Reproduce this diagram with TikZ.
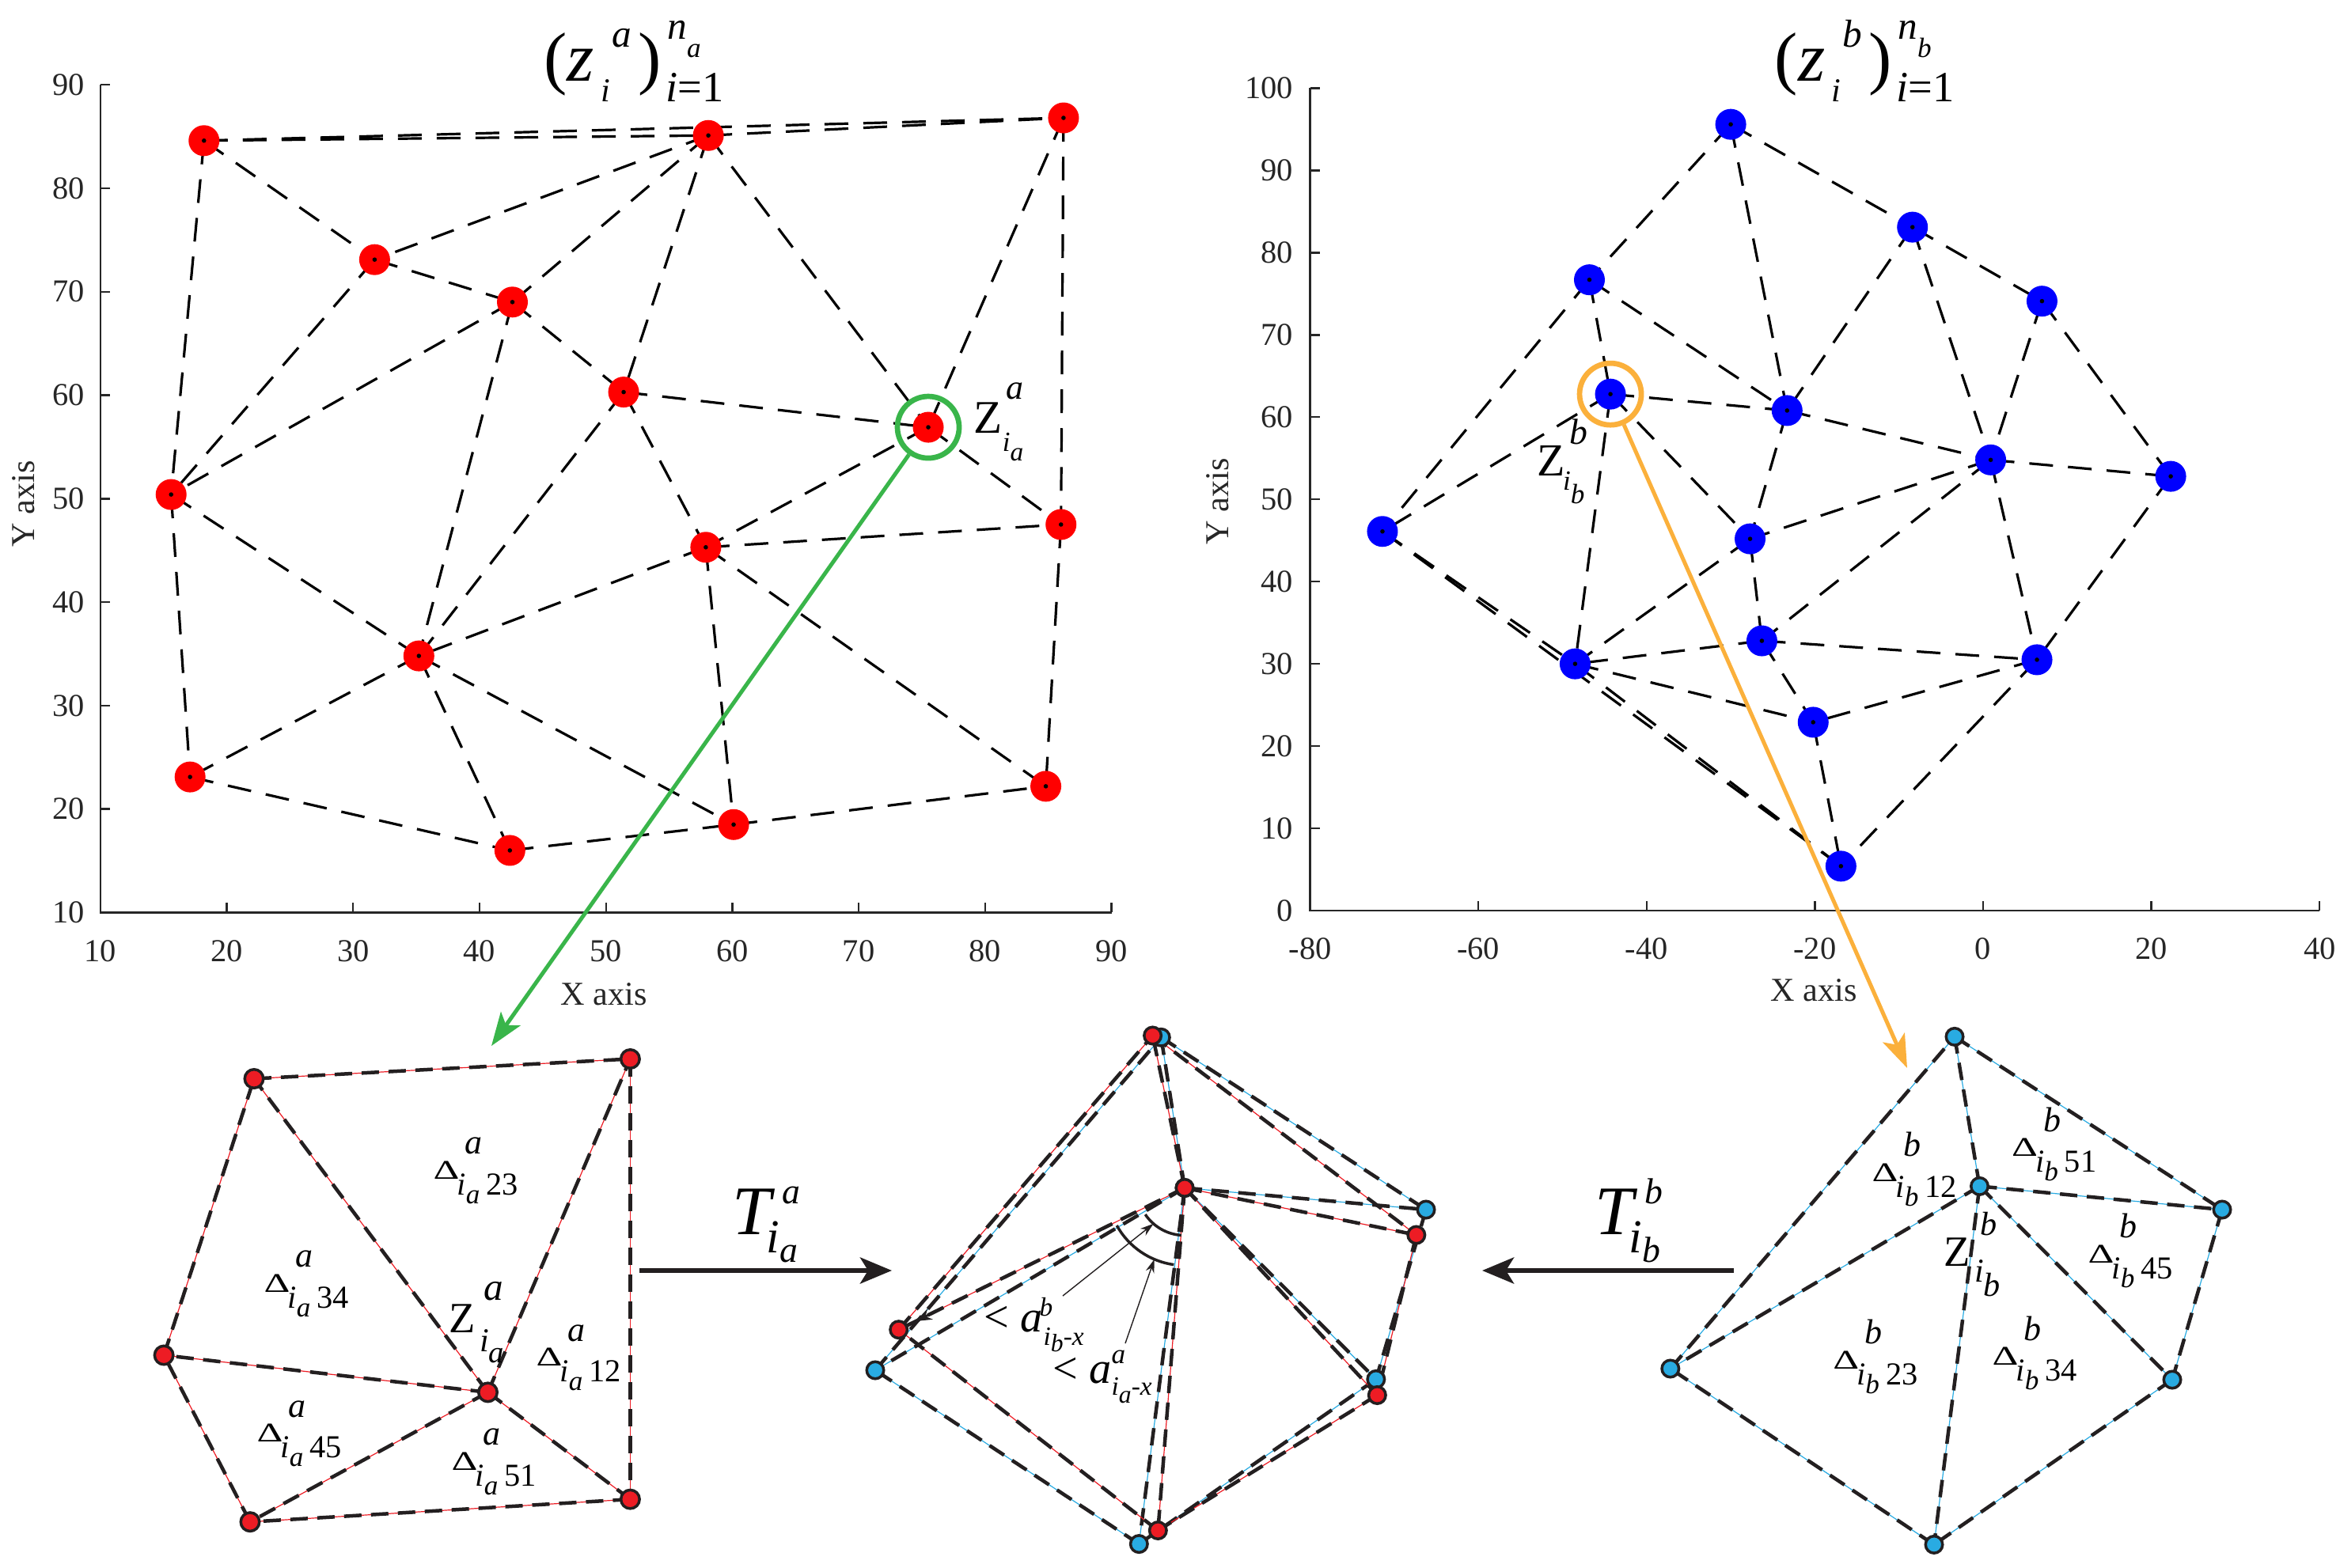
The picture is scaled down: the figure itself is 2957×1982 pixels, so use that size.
\documentclass[tikz,border=0pt]{standalone}
\usepackage{graphicx}
\usepackage{fontspec}
\setmainfont{Liberation Serif}
\usetikzlibrary{arrows.meta,calc}
\definecolor{mred}{RGB}{255,0,0}
\definecolor{mblue}{RGB}{0,0,255}
\definecolor{ired}{HTML}{ED1C24}
\definecolor{iblue}{HTML}{29ABE2}
\definecolor{ink}{HTML}{231F20}
\definecolor{ggreen}{HTML}{39B54A}
\definecolor{gorange}{HTML}{FBB03B}
\definecolor{axgray}{HTML}{262626}
\newcommand\fs[1]{\fontsize{#1}{#1}\selectfont}
\newcommand\Dlab[3]{\raisebox{0.2cm}{\scalebox{1.5}[1]{\fs{9.7}Δ}}\rlap{\hskip0.07cm\raisebox{0.51cm}{\fs{12.5}\itshape #1}}\hskip-0.03cm{\itshape i}\raisebox{-0.11cm}{\fs{10}\itshape #2}\hskip0.08cm #3}
\begin{document}
\begin{tikzpicture}[x=0.01cm,y=-0.01cm,
  tdash/.style={black,line width=0.032cm,dash pattern=on 0.30cm off 0.19cm},
  axisline/.style={axgray,line width=0.024cm},
  ticklab/.style={inner sep=0pt,font=\fs{11.5},text=axgray},
  axlab/.style={inner sep=0pt,font=\fs{12},text=axgray},
  rdot/.style={circle,fill=mred,minimum size=0.39cm,inner sep=0pt,
    path picture={\fill[black] (path picture bounding box.center) circle (0.028cm);}},
  bdot/.style={rdot,fill=mblue},
  redge/.style={ink,line width=0.045cm,dash pattern=on 0.22cm off 0.12cm,
    preaction={draw=ired,line width=0.012cm,solid}},
  bedge/.style={ink,line width=0.045cm,dash pattern=on 0.22cm off 0.12cm,
    preaction={draw=iblue,line width=0.012cm,solid}},
  rnode/.style={circle,draw=ink,line width=0.035cm,fill=ired,minimum size=0.215cm,inner sep=0pt},
  bnode/.style={rnode,fill=iblue},
  lab/.style={anchor=base west,inner sep=0pt},
  dlab/.style={lab,font=\fs{11.5}},
  bigarrow/.style={ink,line width=0.06cm,-{Stealth[length=0.40cm,width=0.33cm,inset=0.1cm]}},
  pointer/.style={ink,line width=0.014cm,-{Stealth[length=0.17cm,width=0.11cm]}},
  ring/.style={circle,line width=0.067cm,minimum size=0.78cm,inner sep=0pt},
]
\fill[white] (0,0) rectangle (2957,1982);
\useasboundingbox (0,0) rectangle (2957,1982);

% ---------------- left data plot ----------------
\begin{scope}[shift={(-32.94,1284.21)},x=0.15964cm,y=0.13071cm]
  \draw[axisline] (10,90) -- (10,10) -- (90,10);
  \foreach \v in {10,20,...,90}{
    \draw[axisline] (\v,10) -- ++(0,0.12cm);
    \draw[axisline] (10,\v) -- ++(0.12cm,0);
    \node[ticklab,anchor=north] (lx\v) at ([yshift=-0.345cm]\v,10) {\v};
    \node[ticklab,anchor=east] (ly\v) at ([xshift=-0.19cm]10,\v) {\v};
  }
  \coordinate (L1) at (18.2,84.6);  \coordinate (L2) at (58.1,85.1);
  \coordinate (L3) at (86.2,86.8);  \coordinate (L4) at (31.7,73.1);
  \coordinate (L5) at (42.6,69.0);  \coordinate (L6) at (51.4,60.3);
  \coordinate (L7) at (75.5,56.9);  \coordinate (L8) at (15.6,50.4);
  \coordinate (L9) at (57.9,45.3);  \coordinate (L10) at (86.0,47.5);
  \coordinate (L11) at (35.2,34.8); \coordinate (L12) at (17.1,23.1);
  \coordinate (L13) at (42.4,16.0); \coordinate (L14) at (60.1,18.5);
  \coordinate (L15) at (84.8,22.2);
  \foreach \a/\b in {1/2,1/3,2/3,1/4,1/8,2/4,2/5,2/6,2/7,3/7,3/10,4/5,4/8,5/8,5/6,5/11,
      6/7,6/9,6/11,7/9,7/10,8/11,8/12,9/10,9/11,9/14,9/15,10/15,11/12,11/13,11/14,12/13,13/14,14/15}
    \draw[tdash] (L\a) -- (L\b);
  \foreach \i in {1,...,15} \node[rdot] (nL\i) at (L\i) {};
\end{scope}
\node[axlab] (xlabA) at (763,1257) {X axis};
\node[axlab,rotate=90] (ylabA) at (30,637) {Y axis};

% ---------------- right data plot ----------------
\begin{scope}[shift={(2506,1151)},x=0.10625cm,y=0.1039cm]
  \draw[axisline] (-80,100) -- (-80,0) -- (40,0);
  \foreach \v in {-80,-60,...,40}{
    \draw[axisline] (\v,0) -- ++(0,0.12cm);
    \node[ticklab,anchor=north] (rx\v) at ([yshift=-0.335cm]\v,0) {\v};
  }
  \foreach \v in {0,10,...,100}{
    \draw[axisline] (-80,\v) -- ++(0.12cm,0);
    \node[ticklab,anchor=east] (ry\v) at ([xshift=-0.21cm]-80,\v) {\v};
  }
  \coordinate (B1) at (-30.0,95.6);  \coordinate (B2) at (-8.4,83.1);
  \coordinate (B3) at (7.0,74.1);    \coordinate (B4) at (-46.8,76.7);
  \coordinate (B5) at (-44.3,62.8);  \coordinate (B6) at (-23.3,60.8);
  \coordinate (B7) at (0.9,54.8);    \coordinate (B8) at (22.3,52.8);
  \coordinate (B9) at (-71.4,46.1);  \coordinate (B10) at (-27.7,45.2);
  \coordinate (B11) at (-26.3,32.8); \coordinate (B12) at (-48.5,30.0);
  \coordinate (B13) at (6.4,30.5);   \coordinate (B14) at (-20.2,22.9);
  \coordinate (B15) at (-16.9,5.4);
  \foreach \a/\b in {1/2,1/4,1/6,2/3,2/6,2/7,3/7,3/8,4/5,4/6,4/9,5/6,5/9,5/10,5/12,6/7,6/10,
      7/8,7/10,7/11,7/13,8/13,9/12,9/15,10/11,10/12,11/12,11/13,11/14,12/14,12/15,13/14,13/15,14/15}
    \draw[tdash] (B\a) -- (B\b);
  \foreach \i in {1,...,15} \node[bdot] (nB\i) at (B\i) {};
\end{scope}
\node[axlab] (xlabB) at (2292,1252) {X axis};
\node[axlab,rotate=90] (ylabB) at (1539,634) {Y axis};

% titles
\node[lab] (titleA) at (687,103) {\fs{25}(\textit{z}\makebox[0.55cm][l]{\rlap{\hskip0.22cm\raisebox{0.43cm}{\fs{14}\itshape a}}\hskip0.08cm\raisebox{-0.25cm}{\fs{12}\itshape i}})\rlap{\hskip0.08cm\raisebox{0.53cm}{\fs{14}\itshape n\raisebox{-0.23cm}{\fs{10}a}}}\hskip0.06cm\raisebox{-0.25cm}{\fs{15.5}\itshape i\upshape=1}};
\node[lab] (titleB) at (2242,103) {\fs{25}(\textit{z}\makebox[0.55cm][l]{\rlap{\hskip0.22cm\raisebox{0.43cm}{\fs{14}\itshape b}}\hskip0.08cm\raisebox{-0.25cm}{\fs{12}\itshape i}})\rlap{\hskip0.08cm\raisebox{0.53cm}{\fs{14}\itshape n\raisebox{-0.23cm}{\fs{10}b}}}\hskip0.06cm\raisebox{-0.25cm}{\fs{15.5}\itshape i\upshape=1}};

% labels at the circled points
\node[lab] (zA) at (1230,547) {\fs{16.8}Z\rlap{\hskip0.05cm\raisebox{0.42cm}{\fs{12.5}\itshape a}}\raisebox{-0.23cm}{\fs{10}\itshape i\raisebox{-0.12cm}{\fs{9.5}a}}};
\node[lab] (zB) at (1942,601.7) {\fs{16.5}Z\rlap{\hskip0.05cm\raisebox{0.40cm}{\fs{13}\itshape b}}\hskip-0.03cm\raisebox{-0.18cm}{\fs{10}\itshape i\raisebox{-0.17cm}{\fs{10}b}}};

% rings and long arrows
\node[ring,draw=ggreen] (gring) at (L7) {};
\node[ring,draw=gorange] (oring) at (B5) {};
\coordinate (gtip) at (621,1322);
\coordinate (otip) at (2410,1350);
\draw[ggreen,line width=0.05cm,-{Stealth[length=0.42cm,width=0.30cm,inset=0.1cm]}] (gring) -- (gtip);
\draw[gorange,line width=0.05cm,-{Stealth[length=0.42cm,width=0.30cm,inset=0.1cm]}] (oring) -- (otip);

% ---------------- bottom left ----------------
\coordinate (A1) at (321,1363.5);  \coordinate (A2) at (796.4,1338.5);
\coordinate (A3) at (207.1,1713);  \coordinate (A4) at (616.5,1759.9);
\coordinate (A5) at (316,1923.7);  \coordinate (A6) at (796.4,1895.1);
\foreach \a/\b in {4/1,4/2,4/3,4/5,4/6,1/2,2/6,6/5,5/3,3/1}
  \draw[redge] (A\a) -- (A\b);
\foreach \i in {1,...,6} \node[rnode,minimum size=0.235cm] (nA\i) at (A\i) {};

\node[dlab] (dA23) at (547,1510) {\Dlab{a}{a}{23}};
\node[dlab] (dA34) at (333,1653) {\Dlab{a}{a}{34}};
\node[dlab] (dA12) at (677,1746.5) {\Dlab{a}{a}{12}};
\node[dlab] (dA45) at (324,1842.5) {\Dlab{a}{a}{45}};
\node[dlab] (dA51) at (570,1878) {\Dlab{a}{a}{51}};
\node[lab] (zA2) at (567,1684) {\fs{15.5}Z\rlap{\hskip0.1cm\raisebox{0.40cm}{\fs{14}\itshape a}}\hskip0.05cm\raisebox{-0.24cm}{\fs{12}\itshape i\raisebox{-0.14cm}{\fs{11}a}}};

% ---------------- bottom middle ----------------
\coordinate (mR1) at (1456.6,1309);  \coordinate (mR2) at (1497,1501.5);
\coordinate (mR3) at (1789.8,1561);  \coordinate (mR4) at (1135.7,1680.7);
\coordinate (mR5) at (1740.3,1763.5);\coordinate (mR6) at (1463.3,1934.5);
\coordinate (mQ1) at (1467.3,1311.3);\coordinate (mQ2) at (1497,1501.5);
\coordinate (mQ3) at (1802,1529);    \coordinate (mQ4) at (1106,1732);
\coordinate (mQ5) at (1738.8,1743.4);\coordinate (mQ6) at (1439.3,1951.6);
\foreach \a/\b in {2/1,2/3,2/4,2/5,2/6,1/3,3/5,5/6,6/4,4/1}
  \draw[bedge] (mQ\a) -- (mQ\b);
\foreach \a/\b in {2/1,2/3,2/4,2/5,2/6,1/3,3/5,5/6,6/4,4/1}
  \draw[redge] (mR\a) -- (mR\b);
\draw[ink,line width=0.03cm,-{Stealth[length=0.2cm,width=0.15cm]}] ($(mR2)!0.86!(mR4)$) -- ($(mR2)!0.94!(mR4)$);
\foreach \i in {1,...,6} \node[bnode] (nQ\i) at (mQ\i) {};
\foreach \i in {1,...,6} \node[rnode] (nR\i) at (mR\i) {};
% angle arcs
\draw[ink,line width=0.035cm] ([shift={(214:0.60cm)}]mR2) arc[start angle=214,end angle=266,radius=0.60cm];
\draw[ink,line width=0.035cm] ([shift={(209:0.98cm)}]mR2) arc[start angle=209,end angle=262,radius=0.98cm];
\coordinate (pa1) at (1343,1638);
\coordinate (pb1) at ([shift={(229:0.60cm)}]mR2);
\coordinate (pa2) at (1422,1698);
\coordinate (pb2) at ([shift={(247:0.98cm)}]mR2);
\draw[pointer] (pa1) -- (pb1);
\draw[pointer] (pa2) -- (pb2);
\node[lab] (angB) at (1243,1683) {\fs{16}< \textit{a}\rlap{\hskip-0.04cm\raisebox{0.2cm}{\fs{9.5}\itshape b}}\hskip0.01cm\raisebox{-0.17cm}{\fs{9.5}\itshape i\raisebox{-0.08cm}{\fs{9}b}\upshape-\textit{x}}};
\node[lab] (angA) at (1330,1748) {\fs{16}< \textit{a}\rlap{\hskip0.0cm\raisebox{0.25cm}{\fs{10}\itshape a}}\raisebox{-0.15cm}{\fs{9.5}\itshape i\raisebox{-0.10cm}{\fs{9}a}\upshape-\textit{x}}};

% ---------------- bottom right ----------------
\coordinate (C1) at (2470,1310.4);  \coordinate (C2) at (2501.5,1499.4);
\coordinate (C3) at (2808,1529);    \coordinate (C4) at (2110.8,1730);
\coordinate (C5) at (2745,1744);    \coordinate (C6) at (2444,1952.4);
\foreach \a/\b in {2/1,2/3,2/4,2/5,2/6,1/3,3/5,5/6,6/4,4/1}
  \draw[bedge] (C\a) -- (C\b);
\foreach \i in {1,...,6} \node[bnode] (nC\i) at (C\i) {};
\node[dlab] (dB12) at (2365,1513) {\Dlab{b}{b}{12}};
\node[dlab] (dB51) at (2541.5,1481.5) {\Dlab{b}{b}{51}};
\node[dlab] (dB45) at (2638,1616) {\Dlab{b}{b}{45}};
\node[dlab] (dB23) at (2315.6,1750) {\Dlab{b}{b}{23}};
\node[dlab] (dB34) at (2517,1745.6) {\Dlab{b}{b}{34}};
\node[lab] (zB2) at (2456,1600) {\fs{15.5}Z\rlap{\hskip0.12cm\raisebox{0.38cm}{\fs{12}\itshape b}}\hskip0.05cm\raisebox{-0.20cm}{\fs{12}\itshape i\raisebox{-0.18cm}{\fs{12}b}}};

% ---------------- transfer arrows ----------------
\coordinate (ta1) at (808,1606);  \coordinate (ta2) at (1127,1606);
\coordinate (tb1) at (2191,1606); \coordinate (tb2) at (1873,1606);
\draw[bigarrow] (ta1) -- (ta2);
\draw[bigarrow] (tb1) -- (tb2);
\node[lab] (TA) at (925,1560) {\fs{25}\textit{T}\rlap{\hskip0.09cm\raisebox{0.38cm}{\fs{13}\itshape a}}\hskip-0.11cm\raisebox{-0.23cm}{\fs{17}\itshape i\raisebox{-0.12cm}{\fs{13}a}}};
\node[lab] (TB) at (2015,1560) {\fs{25}\textit{T}\rlap{\hskip0.09cm\raisebox{0.38cm}{\fs{13}\itshape b}}\hskip-0.11cm\raisebox{-0.23cm}{\fs{17}\itshape i\raisebox{-0.12cm}{\fs{13}b}}};
\end{tikzpicture}
\end{document}
